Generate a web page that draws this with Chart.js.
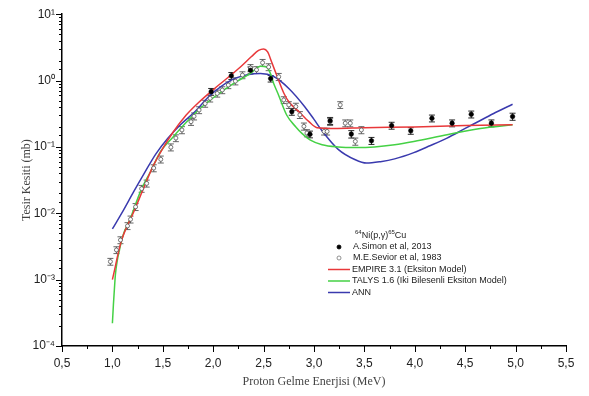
<!DOCTYPE html>
<html>
<head>
<meta charset="utf-8">
<script src="https://cdn.jsdelivr.net/npm/chart.js@4.4.1/dist/chart.umd.min.js"></script>
<style>
  html, body { margin: 0; padding: 0; background: #fff; }
  #wrap { width: 589px; height: 396px; }
</style>
</head>
<body>
<div id="wrap"><canvas id="c" width="589" height="396"></canvas></div>
<script>
// Measured cross sections for 64Ni(p,γ)65Cu (mb) vs proton energy (MeV)
const simonE   = [1.98, 2.18, 2.37, 2.57, 2.78, 2.96, 3.16, 3.37, 3.57, 3.77, 3.96, 4.17, 4.37, 4.56, 4.76, 4.97];
const simonXS  = [0.68, 1.18, 1.43, 1.07, 0.34, 0.155, 0.248, 0.156, 0.124, 0.21, 0.175, 0.27, 0.228, 0.31, 0.228, 0.287];
const simonErr = [0.08, 0.14, 0.17, 0.12, 0.04, 0.018, 0.03, 0.02, 0.015, 0.025, 0.02, 0.032, 0.027, 0.037, 0.027, 0.035];

const seviorE   = [0.98, 1.04, 1.08, 1.15, 1.18, 1.23, 1.29, 1.34, 1.41, 1.48, 1.58, 1.63, 1.69, 1.78, 1.81, 1.86, 1.92, 1.97, 2.04, 2.09, 2.15, 2.22, 2.29, 2.37, 2.43, 2.49, 2.55, 2.65, 2.70, 2.75, 2.82, 2.86, 2.90, 2.93, 3.10, 3.13, 3.16, 3.26, 3.31, 3.36, 3.41, 3.47];
const seviorXS  = [1.87e-3, 2.8e-3, 3.95e-3, 6.45e-3, 8.1e-3, 0.0125, 0.0235, 0.0282, 0.048, 0.065, 0.099, 0.136, 0.18, 0.24, 0.29, 0.36, 0.45, 0.54, 0.64, 0.72, 0.855, 0.98, 1.21, 1.55, 1.45, 1.86, 1.6, 1.14, 0.51, 0.43, 0.405, 0.304, 0.204, 0.162, 0.171, 0.171, 0.24, 0.43, 0.228, 0.228, 0.121, 0.18];
const seviorErr = [2.2e-4, 3.3e-4, 4.7e-4, 7.7e-4, 9.7e-4, 0.0015, 0.0028, 0.0034, 0.0058, 0.0078, 0.012, 0.016, 0.022, 0.029, 0.035, 0.043, 0.054, 0.065, 0.077, 0.086, 0.1, 0.12, 0.145, 0.19, 0.17, 0.22, 0.19, 0.14, 0.06, 0.05, 0.05, 0.036, 0.025, 0.02, 0.02, 0.02, 0.03, 0.05, 0.027, 0.027, 0.015, 0.022];

// Model calculations
const empireE  = [1.0, 1.03, 1.06, 1.1, 1.15, 1.2, 1.3, 1.4, 1.5, 1.6, 1.73, 1.85, 2.04, 2.15, 2.27, 2.38, 2.45, 2.5, 2.54, 2.58, 2.63, 2.7, 2.75, 2.85, 2.95, 3.03, 3.2, 3.5, 4.0, 4.5, 4.97];
const empireXS = [1.0e-3, 1.6e-3, 2.6e-3, 4.3e-3, 6.6e-3, 9.6e-3, 0.022, 0.05, 0.095, 0.165, 0.3, 0.46, 0.82, 1.12, 1.6, 2.3, 2.85, 3.0, 2.7, 1.9, 1.2, 0.65, 0.48, 0.34, 0.24, 0.195, 0.19, 0.195, 0.2, 0.21, 0.215];

const talysE  = [1.0, 1.01, 1.02, 1.03, 1.05, 1.07, 1.1, 1.18, 1.28, 1.38, 1.48, 1.6, 1.71, 1.87, 2.04, 2.2, 2.37, 2.47, 2.53, 2.57, 2.6, 2.64, 2.73, 2.82, 2.88, 2.96, 3.08, 3.24, 3.41, 3.6, 3.8, 3.99, 4.32, 4.65, 4.97];
const talysXS = [2.2e-4, 4.2e-4, 7.3e-4, 1.2e-3, 2.0e-3, 2.8e-3, 4.4e-3, 8.5e-3, 0.0216, 0.043, 0.086, 0.14, 0.215, 0.38, 0.61, 0.9, 1.28, 1.65, 1.6, 1.25, 0.9, 0.65, 0.30, 0.2, 0.16, 0.128, 0.108, 0.1, 0.098, 0.1, 0.108, 0.121, 0.153, 0.19, 0.215];

const annE  = [1.0, 1.1, 1.21, 1.32, 1.43, 1.55, 1.68, 1.81, 1.97, 2.17, 2.34, 2.47, 2.6, 2.75, 2.91, 3.0, 3.08, 3.24, 3.41, 3.52, 3.66, 3.8, 3.99, 4.15, 4.32, 4.5, 4.65, 4.8, 4.97];
const annXS = [5.8e-3, 0.0105, 0.021, 0.041, 0.078, 0.135, 0.22, 0.33, 0.6, 1.0, 1.22, 1.28, 1.15, 0.76, 0.4, 0.26, 0.175, 0.092, 0.064, 0.057, 0.06, 0.066, 0.082, 0.104, 0.136, 0.19, 0.25, 0.33, 0.44];

const legendTitle = { pre: '64', main1: 'Ni(p,γ)', sup2: '65', main2: 'Cu' };

const pts = (xs, ys) => xs.map((x, i) => ({ x: x, y: ys[i] }));
const SUP = { '0': '⁰', '1': '¹', '2': '²', '3': '³', '4': '⁴', '-': '⁻' };

// Vertical error bars with caps, drawn beneath the markers
const errorBars = {
  id: 'errorBars',
  beforeDatasetsDraw(chart) {
    const { ctx } = chart;
    const xs = chart.scales.x, ys = chart.scales.y;
    chart.data.datasets.forEach(ds => {
      if (!ds.errors) return;
      ctx.save();
      ctx.strokeStyle = ds.errorColor;
      ctx.lineWidth = 0.9;
      ds.data.forEach((p, i) => {
        const e = ds.errors[i];
        const px = xs.getPixelForValue(p.x);
        const top = ys.getPixelForValue(p.y + e);
        const bot = ys.getPixelForValue(p.y - e);
        ctx.beginPath();
        ctx.moveTo(px, top); ctx.lineTo(px, bot);
        ctx.moveTo(px - 3, top); ctx.lineTo(px + 3, top);
        ctx.moveTo(px - 3, bot); ctx.lineTo(px + 3, bot);
        ctx.stroke();
      });
      ctx.restore();
    });
  }
};

// Outward tick marks: long for major, short for minor
const axisTicks = {
  id: 'axisTicks',
  afterDraw(chart) {
    const { ctx, chartArea: a } = chart;
    const xs = chart.scales.x, ys = chart.scales.y;
    ctx.save();
    ctx.strokeStyle = '#000';
    ctx.lineWidth = 1;
    for (let k = 0; k <= 20; k++) {
      const v = xs.min + k * 0.25;
      const px = Math.round(xs.getPixelForValue(v)) + 0.5;
      const len = (k % 2 === 0) ? 6 : 3;
      ctx.beginPath(); ctx.moveTo(px, a.bottom); ctx.lineTo(px, a.bottom + len); ctx.stroke();
    }
    ys.ticks.forEach(t => {
      const lg = Math.log10(t.value);
      const major = Math.abs(lg - Math.round(lg)) < 1e-6;
      const py = Math.round(ys.getPixelForValue(t.value)) + 0.5;
      ctx.beginPath(); ctx.moveTo(a.left, py); ctx.lineTo(a.left - (major ? 6 : 3), py); ctx.stroke();
    });
    ctx.restore();
  }
};

// Legend block inside the plot area
const innerLegend = {
  id: 'innerLegend',
  afterDraw(chart) {
    const { ctx } = chart;
    ctx.save();
    ctx.fillStyle = '#222';
    ctx.textBaseline = 'alphabetic';
    let x = 355;
    const ty = 238;
    ctx.font = '6px "Liberation Sans", Arial, sans-serif';
    ctx.fillText(legendTitle.pre, x, ty - 4); x += ctx.measureText(legendTitle.pre).width;
    ctx.font = '9px "Liberation Sans", Arial, sans-serif';
    ctx.fillText(legendTitle.main1, x, ty); x += ctx.measureText(legendTitle.main1).width;
    ctx.font = '6px "Liberation Sans", Arial, sans-serif';
    ctx.fillText(legendTitle.sup2, x, ty - 4); x += ctx.measureText(legendTitle.sup2).width;
    ctx.font = '9px "Liberation Sans", Arial, sans-serif';
    ctx.fillText(legendTitle.main2, x, ty);

    ctx.textBaseline = 'middle';
    const rows = [247, 258, 269.5, 281, 292.5];
    chart.data.datasets.forEach((ds, i) => {
      const y = rows[i];
      if (ds.showLine) {
        ctx.strokeStyle = ds.borderColor;
        ctx.lineWidth = 1.5;
        ctx.beginPath(); ctx.moveTo(328, y); ctx.lineTo(350, y); ctx.stroke();
      } else {
        ctx.beginPath();
        ctx.arc(339, y, 2, 0, Math.PI * 2);
        ctx.fillStyle = ds.backgroundColor;
        ctx.fill();
        ctx.strokeStyle = ds.borderColor;
        ctx.lineWidth = 0.8;
        ctx.stroke();
      }
      ctx.fillStyle = '#222';
      ctx.font = '9px "Liberation Sans", Arial, sans-serif';
      ctx.fillText(ds.label, ds.showLine ? 352 : 353, y);
    });
    ctx.restore();
  }
};

const lineDs = (label, xs, ys, color) => ({
  label: label, data: pts(xs, ys), showLine: true, borderColor: color, backgroundColor: color,
  borderWidth: 1.5, pointRadius: 0, cubicInterpolationMode: 'monotone', order: 2
});

new Chart(document.getElementById('c'), {
  type: 'scatter',
  data: {
    datasets: [
      { label: 'A.Simon et al, 2013', data: pts(simonE, simonXS), errors: simonErr, errorColor: '#111',
        showLine: false, pointRadius: 2.3, pointBackgroundColor: '#000', pointBorderColor: '#000',
        backgroundColor: '#000', borderColor: '#000', pointBorderWidth: 0.5, order: 0 },
      { label: 'M.E.Sevior et al, 1983', data: pts(seviorE, seviorXS), errors: seviorErr, errorColor: '#555',
        showLine: false, pointRadius: 2, pointBackgroundColor: '#fff', pointBorderColor: '#555',
        backgroundColor: '#fff', borderColor: '#777', pointBorderWidth: 0.8, order: 1 },
      lineDs('EMPIRE 3.1 (Eksiton Model)', empireE, empireXS, '#e8383a'),
      lineDs('TALYS 1.6 (Iki Bilesenli Eksiton Model)', talysE, talysXS, '#45d145'),
      lineDs('ANN', annE, annXS, '#3a3aae')
    ]
  },
  options: {
    responsive: false,
    animation: false,
    devicePixelRatio: 1,
    layout: { padding: { top: 12, right: 23, left: 0, bottom: 0 } },
    plugins: { legend: { display: false }, tooltip: { enabled: false } },
    scales: {
      x: {
        type: 'linear', min: 0.5, max: 5.5,
        border: { display: true, color: '#000', width: 1.5 },
        grid: { display: true, drawOnChartArea: false, drawTicks: false },
        ticks: {
          stepSize: 0.5, padding: 10, autoSkip: false, maxRotation: 0, color: '#222',
          font: { family: '"Liberation Sans", Arial, sans-serif', size: 12 },
          callback: v => Number(v).toFixed(1).replace('.', ',')
        },
        title: {
          display: true, text: 'Proton Gelme Enerjisi (MeV)', color: '#444',
          font: { family: '"Liberation Serif", "Times New Roman", serif', size: 12 },
          padding: { top: 0, bottom: 7 }
        },
        afterFit(s) { s.height = 50; }
      },
      y: {
        type: 'logarithmic', min: 1e-4, max: 10,
        border: { display: true, color: '#000', width: 1.5 },
        grid: { display: true, drawOnChartArea: false, drawTicks: false },
        ticks: {
          padding: 7, autoSkip: false, color: '#222',
          font: { family: '"Liberation Sans", Arial, sans-serif', size: 12 },
          callback: v => {
            const lg = Math.log10(v);
            if (Math.abs(lg - Math.round(lg)) > 1e-6) return '';
            return '10' + String(Math.round(lg)).split('').map(c => SUP[c]).join('');
          }
        },
        title: {
          display: true, text: 'Tesir Kesiti (mb)', color: '#444',
          font: { family: '"Liberation Serif", "Times New Roman", serif', size: 12 },
          padding: { top: 20, bottom: 0 }
        },
        afterFit(s) { s.width = 62; }
      }
    }
  },
  plugins: [errorBars, axisTicks, innerLegend]
});
</script>
</body>
</html>
